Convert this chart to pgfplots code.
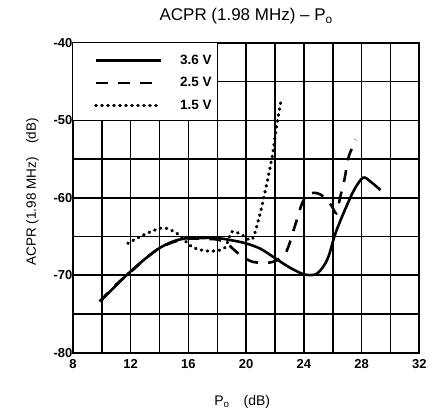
\documentclass[border=0pt]{standalone}
\usepackage{fontspec}
\setmainfont{Liberation Sans}
\usepackage{pgfplots}
\pgfplotsset{compat=1.18}
\begin{document}
\begin{tikzpicture}
\begin{axis}[
  at={(0pt,0pt)}, anchor=south west,
  scale only axis, width=347pt, height=310pt,
  xmin=8, xmax=32, ymin=-80, ymax=-40,
  xtick={8,12,...,32}, minor xtick={10,14,...,30},
  ytick={-80,-70,...,-40}, minor ytick={-75,-65,...,-45},
  grid=both,
  major grid style={black, line width=1.6pt},
  minor grid style={black, line width=1.6pt},
  axis line style={line width=2pt},
  tick style={draw=none},
  ticklabel style={font=\bfseries\fontsize{13}{15}\selectfont},
  xticklabel style={yshift=-3pt},
  yticklabel style={xshift=3pt},
  /pgf/number format/assume math mode=true,
  title={ACPR (1.98 MHz) -- P\textsubscript{o}},
  title style={at={(axis description cs:0.5,1.0516)}, anchor=base, font=\fontsize{17}{19}\selectfont},
  xlabel={P\textsubscript{o}\quad(dB)},
  xlabel style={at={(axis description cs:0.4885,-0.1720)}, anchor=base, font=\fontsize{14}{16}\selectfont},
  ylabel={ACPR (1.98 MHz)\quad(dB)},
  ylabel style={at={(axis description cs:-0.1066,0.519)}, anchor=base, font=\fontsize{13.5}{15}\selectfont},
  legend image code/.code={\draw[#1] (0pt,0pt) -- (65pt,0pt);},
  legend style={at={(axis description cs:0,1)}, anchor=north west, xshift=18pt, yshift=-8pt,
    draw=none, fill=none, font=\bfseries\fontsize{13.5}{15}\selectfont,
    row sep=7.5pt, nodes={inner sep=2pt}, /tikz/every odd column/.style={column sep=16pt}},
  legend cell align=left,
]
\fill[white] (axis cs:8,-50) rectangle (axis cs:18,-40);
\draw[black, line width=1.6pt] (axis cs:8,-50) -- (axis cs:18,-50) -- (axis cs:18,-40);
\addplot[black, line width=2.6pt, smooth, tension=0.5] coordinates {
(10,-73.2) (11,-71.3) (12,-69.5) (13,-67.9) (14,-66.5) (15,-65.6) (16,-65.2) (17,-65.2) (18,-65.2) (19,-65.5) (20,-65.9) (21,-66.6) (22,-67.8) (23,-69.0) (24,-69.9) (24.8,-69.9) (25.3,-69.0) (25.7,-67.6) (26.2,-64.5) (26.9,-61.3) (27.5,-58.9) (28.1,-57.4) (28.6,-57.9) (29.3,-59.0)
};
\addlegendentry{3.6 V}
\addplot[black, line width=2.6pt, dash pattern=on 12pt off 10pt, smooth, tension=0.5] coordinates {
(9.85,-73.4) (11,-71.2) (12,-69.6) (13,-67.9) (14,-66.5) (15,-65.7) (16,-65.3) (17,-65.3) (18,-65.4) (18.6,-65.8) (19.2,-66.8) (19.8,-67.7) (20.5,-68.3) (21.5,-68.4) (22.2,-68.0) (22.8,-66.9) (23.4,-63.5) (23.9,-60.6) (24.4,-59.5) (24.9,-59.4) (25.4,-59.9) (25.9,-61.0) (26.25,-62.0) (26.5,-60.0) (26.8,-57.7) (27.1,-54.7) (27.6,-52.5)
};
\addlegendentry{2.5 V}
\addplot[black, line width=3.2pt, line cap=round, dash pattern=on 0.6pt off 5.4pt, smooth, tension=0.5] coordinates {
(11.8,-65.9) (12.9,-64.8) (14.2,-63.9) (15.2,-64.6) (16.3,-66.4) (17.5,-66.9) (18.5,-66.5) (19.0,-64.4) (19.7,-64.8) (20.4,-65.4) (20.9,-62.5) (21.3,-59.3) (21.8,-54.7) (22.1,-50.8) (22.4,-47.6)
};
\addlegendentry{1.5 V}
\end{axis}
\path[use as bounding box] (-73pt,-59pt) rectangle (357pt,353pt);
\end{tikzpicture}
\end{document}
